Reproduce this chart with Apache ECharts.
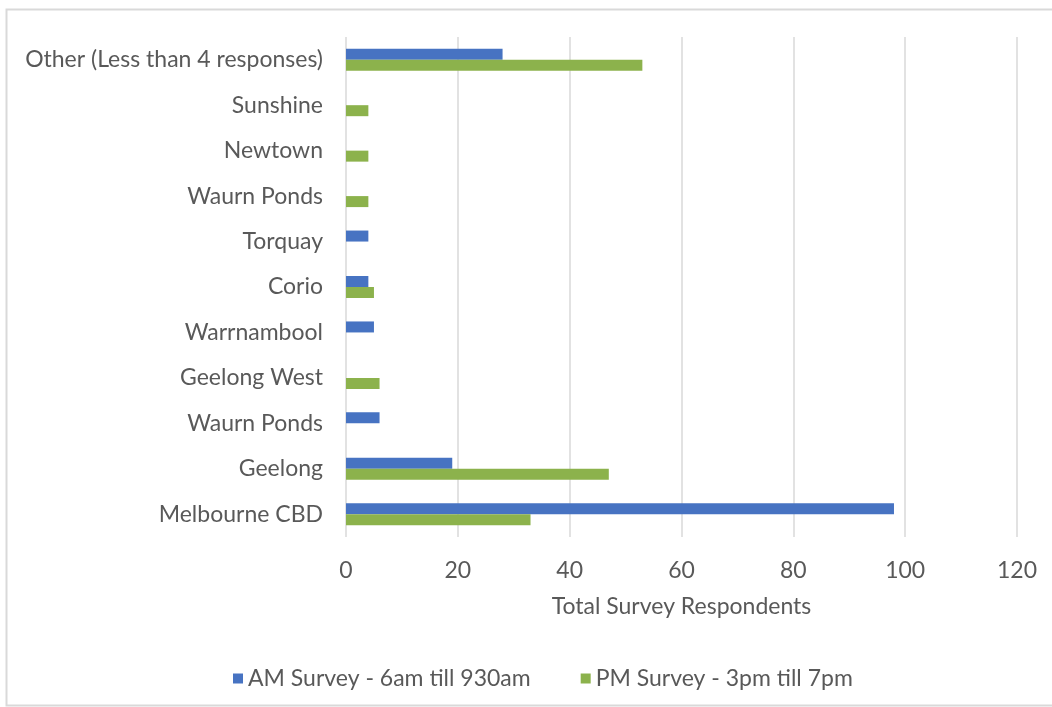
<!DOCTYPE html>
<html>
<head>
<meta charset="utf-8">
<script src="https://cdn.jsdelivr.net/npm/echarts@6/dist/echarts.min.js"></script>
<style>
  html, body { margin: 0; padding: 0; background: #fff; }
  #chart { width: 1052px; height: 707px; }
</style>
</head>
<body>
<div id="chart"></div>
<script>
// categories, bottom to top
var categories = ['Melbourne CBD', 'Geelong', 'Waurn Ponds', 'Geelong West', 'Warrnambool',
  'Corio', 'Torquay', 'Waurn Ponds', 'Newtown', 'Sunshine', 'Other (Less than 4 responses)'];
// AM survey counts
var amValues = [98, 19, 6, null, 5, 4, 4, null, null, null, 28];
// PM survey counts
var pmValues = [33, 47, null, 6, null, 5, null, 4, 4, 4, 53];
var xTicks = { min: 0, max: 120, interval: 20 };

var amName = 'AM Survey - 6am till 930am';
var pmName = 'PM Survey - 3pm till 7pm';
var font = 'Lato';
var textColor = '#595959';
var fontSize = 23;

var myChart = echarts.init(document.getElementById('chart'));
var option = {
    backgroundColor: '#fff',
    textStyle: { fontFamily: font },
    graphic: [{
        type: 'rect',
        shape: { x: 6.5, y: 9.5, width: 1100, height: 696 },
        style: { fill: 'none', stroke: '#d9d9d9', lineWidth: 2 },
        silent: true
    }],
    grid: { left: 346, right: 35, top: 37, bottom: 170 },
    legend: {
        data: [amName, pmName],
        top: 662,
        left: 228,
        itemWidth: 10,
        itemHeight: 10,
        itemGap: 50,
        icon: 'rect',
        textStyle: { fontFamily: font, fontSize: fontSize, color: textColor }
    },
    xAxis: {
        type: 'value',
        min: xTicks.min,
        max: xTicks.max,
        interval: xTicks.interval,
        name: 'Total Survey Respondents',
        nameLocation: 'middle',
        nameGap: 58,
        nameTextStyle: { fontFamily: font, fontSize: fontSize, color: textColor },
        axisLine: { show: false },
        axisTick: { show: false },
        axisLabel: { margin: 22, fontFamily: font, fontSize: fontSize, color: textColor },
        splitLine: { show: true, lineStyle: { color: '#d9d9d9', width: 1.5 } }
    },
    yAxis: {
        type: 'category',
        data: categories,
        axisLine: { show: false },
        axisTick: { show: false },
        axisLabel: { margin: 23, fontFamily: font, fontSize: fontSize, color: textColor, interval: 0 }
    },
    series: [{
        name: amName,
        type: 'bar',
        data: amValues,
        itemStyle: { color: '#4773c2' },
        barWidth: 11,
        barGap: '0%'
    }, {
        name: pmName,
        type: 'bar',
        data: pmValues,
        itemStyle: { color: '#8cb24c' },
        barWidth: 11,
        barGap: '0%'
    }]
};
myChart.setOption(option);
</script>
</body>
</html>
